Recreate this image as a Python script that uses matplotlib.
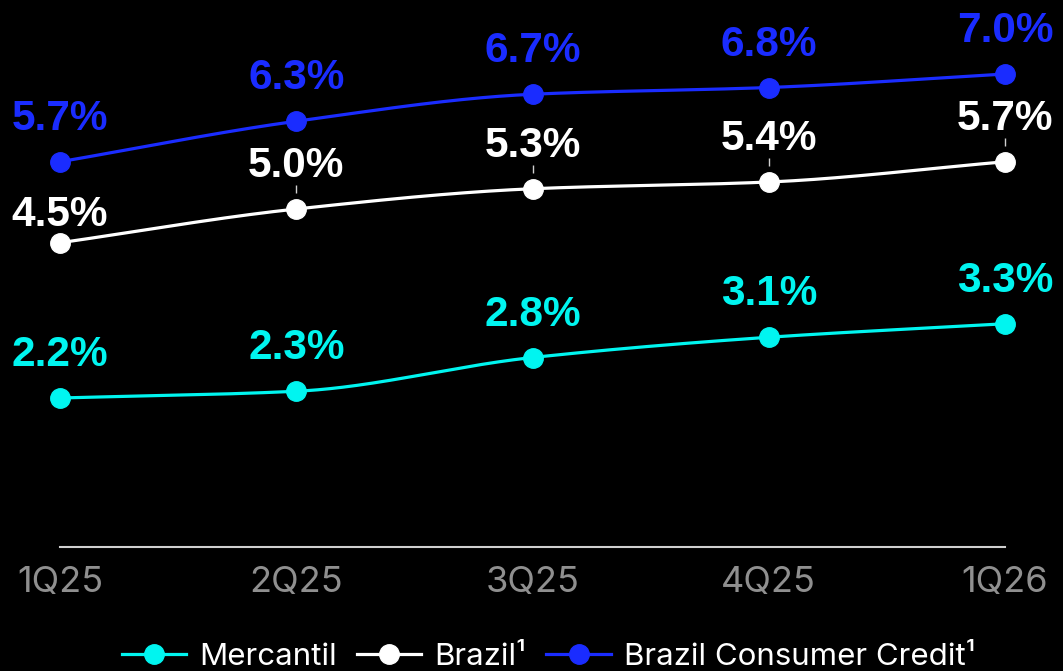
import numpy as np
import matplotlib
matplotlib.use("Agg")
import matplotlib.pyplot as plt

quarters = ["1Q25", "2Q25", "3Q25", "4Q25", "1Q26"]
mercantil = [2.2, 2.3, 2.8, 3.1, 3.3]
brazil = [4.5, 5.0, 5.3, 5.4, 5.7]
brazil_cc = [5.7, 6.3, 6.7, 6.8, 7.0]

C_CYAN = "#00f5f0"
C_WHITE = "#ffffff"
C_BLUE = "#1a2cff"

PX_PER_UNIT = 67.5  # pixels per 1 percentage point


def pchip(x, y, n=200):
    x = np.asarray(x, float)
    y = np.asarray(y, float)
    h = np.diff(x)
    d = np.diff(y) / h
    m = np.zeros_like(y)
    for k in range(1, len(y) - 1):
        if d[k - 1] * d[k] > 0:
            w1 = 2 * h[k] + h[k - 1]
            w2 = h[k] + 2 * h[k - 1]
            m[k] = (w1 + w2) / (w1 / d[k - 1] + w2 / d[k])
    m[0] = d[0]
    m[-1] = d[-1]
    xs, ys = [], []
    for k in range(len(x) - 1):
        t = np.linspace(0, 1, n)
        h00 = 2 * t**3 - 3 * t**2 + 1
        h10 = t**3 - 2 * t**2 + t
        h01 = -2 * t**3 + 3 * t**2
        h11 = t**3 - t**2
        xs.append(x[k] + t * h[k])
        ys.append(h00 * y[k] + h10 * h[k] * m[k] + h01 * y[k + 1] + h11 * h[k] * m[k + 1])
    return np.concatenate(xs), np.concatenate(ys)


fig = plt.figure(figsize=(10.63, 6.71), dpi=100, facecolor="black")
ax = fig.add_axes([60 / 1063, (671 - 546.5) / 671, (1005 - 60) / 1063, 546.5 / 671])
ax.set_facecolor("black")

xpos = np.arange(len(quarters))
series = [("Mercantil", mercantil, C_CYAN),
          ("Brazil\u00b9", brazil, C_WHITE),
          ("Brazil Consumer Credit\u00b9", brazil_cc, C_BLUE)]

handles = []
for si, (name, vals, col) in enumerate(series):
    sx, sy = pchip(xpos, vals)
    ax.plot(sx, sy, color=col, lw=2.3, clip_on=False, zorder=3)
    ax.plot(xpos, vals, "o", color=col, ms=14, clip_on=False, zorder=4)
    h, = ax.plot([], [], "-o", color=col, lw=2.3, ms=14, label=name)
    handles.append(h)
    for i, v in enumerate(vals):
        off_px = 32
        if si == 1 and i == 0:
            off_px = 17
        ax.annotate(f"{v:.1f}%", (xpos[i], v), xytext=(0, off_px), textcoords="offset pixels",
                    ha="center", va="baseline", fontsize=30.5, fontweight="bold",
                    family=["Liberation Sans", "DejaVu Sans"], color=col,
                    annotation_clip=False, zorder=5)

# leader ticks (white series)
for i in range(1, len(brazil)):
    ax.vlines(xpos[i], brazil[i] + 16 / PX_PER_UNIT, brazil[i] + 24 / PX_PER_UNIT,
              color="#d0d0d0", lw=1.0, clip_on=False, zorder=2)

ax.set_xlim(0, 4)
ax.set_ylim(0, 546.5 / PX_PER_UNIT)
for s in ["top", "right", "left"]:
    ax.spines[s].set_visible(False)
ax.spines["bottom"].set_color("#cfcfcf")
ax.spines["bottom"].set_linewidth(1.5)
ax.set_yticks([])
ax.set_xticks(xpos)
ax.set_xticklabels(quarters, fontsize=26, color="#8f8f8f", family=["Inter", "DejaVu Sans"])
ax.tick_params(axis="x", length=0, pad=14)

leg = fig.legend(handles=handles, loc="center", bbox_to_anchor=(0.516, 0.021), ncol=3,
                 frameon=False, handlelength=2.05, handletextpad=0.42,
                 columnspacing=0.65, prop={"family": ["Inter", "DejaVu Sans"], "size": 22.5})
for t in leg.get_texts():
    t.set_color("white")

fig.savefig("out.png", dpi=100, facecolor="black")
